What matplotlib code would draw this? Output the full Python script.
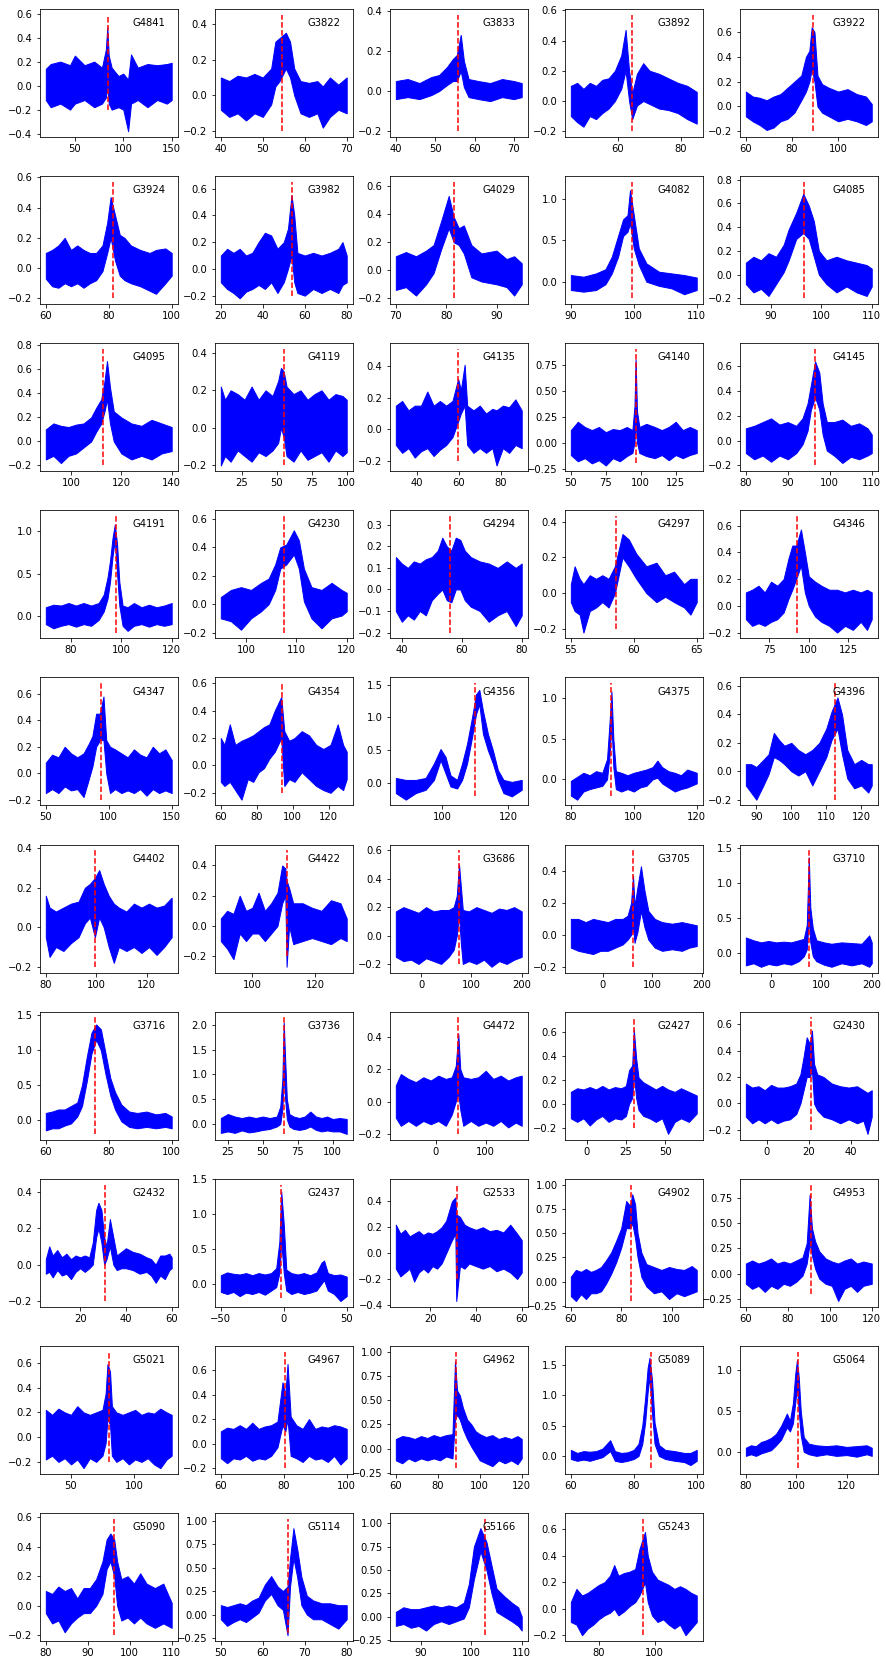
import numpy as np
import matplotlib
matplotlib.use("Agg")
import matplotlib.pyplot as plt

# spectra: (velocity, lower edge, upper edge) of the noisy trace
G4841 = [(20, -0.12, 0.14), (25, -0.18, 0.18), (35, -0.15, 0.20), (45, -0.20, 0.17), (50, -0.15, 0.25),
         (60, -0.12, 0.17), (70, -0.18, 0.20), (78, -0.15, 0.15), (82, -0.10, 0.30), (83.5, 0.0, 0.49),
         (85, -0.15, 0.25), (88, -0.20, 0.15), (95, -0.18, 0.08), (100, -0.20, 0.10), (105, -0.38, 0.05),
         (108, -0.15, 0.26), (115, -0.12, 0.15), (125, -0.18, 0.18), (135, -0.12, 0.17), (145, -0.15, 0.18),
         (150, -0.12, 0.19)]
G3822 = [(40, -0.08, 0.10), (42, -0.12, 0.08), (44, -0.10, 0.11), (46, -0.14, 0.10), (48, -0.10, 0.12),
         (50, -0.12, 0.10), (52, -0.05, 0.15), (53, 0.05, 0.30), (54, 0.08, 0.32), (55.5, 0.15, 0.35),
         (56.5, 0.10, 0.30), (57.5, 0.0, 0.15), (59, -0.10, 0.08), (61, -0.12, 0.07), (63, -0.10, 0.08),
         (64.3, -0.18, 0.05), (66, -0.12, 0.10), (68, -0.08, 0.06), (70, -0.10, 0.10)]
G3833 = [(40, -0.04, 0.05), (43, -0.03, 0.06), (46, -0.04, 0.04), (49, -0.02, 0.07), (51, 0.0, 0.08),
         (53, 0.03, 0.12), (54.5, 0.05, 0.16), (55.5, 0.05, 0.18), (56.5, 0.10, 0.28), (57.3, 0.02, 0.15),
         (58.5, -0.03, 0.06), (61, -0.04, 0.05), (64, -0.05, 0.04), (67, -0.03, 0.06), (70, -0.04, 0.05),
         (72, -0.03, 0.04)]
G3892 = [(45, -0.10, 0.10), (47, -0.14, 0.12), (49, -0.17, 0.08), (51, -0.10, 0.12), (53, -0.12, 0.10),
         (55, -0.08, 0.14), (57, -0.05, 0.15), (59, 0.0, 0.20), (61, 0.08, 0.30), (62.4, 0.20, 0.47),
         (63.5, 0.0, 0.20), (64.5, -0.12, 0.05), (66, -0.03, 0.18), (68, 0.0, 0.25), (70, -0.02, 0.20),
         (73, -0.05, 0.18), (76, -0.06, 0.15), (79, -0.08, 0.12), (82, -0.12, 0.10), (85, -0.15, 0.06)]
G3922 = [(60, -0.08, 0.12), (63, -0.12, 0.08), (66, -0.15, 0.07), (69, -0.19, 0.05), (72, -0.17, 0.08),
         (75, -0.12, 0.10), (78, -0.10, 0.15), (81, -0.05, 0.20), (84, 0.05, 0.25), (86, 0.12, 0.40),
         (87.5, 0.20, 0.45), (88.5, 0.30, 0.64), (89.7, 0.20, 0.60), (91, 0.0, 0.25), (93, -0.05, 0.18),
         (96, -0.08, 0.15), (100, -0.12, 0.12), (104, -0.10, 0.14), (108, -0.12, 0.10), (112, -0.15, 0.08),
         (114.5, -0.12, 0.02)]
G3924 = [(60, -0.07, 0.10), (62, -0.12, 0.12), (64, -0.13, 0.15), (66, -0.10, 0.20), (68, -0.12, 0.12),
         (70, -0.10, 0.15), (72, -0.13, 0.12), (74, -0.10, 0.10), (76, -0.08, 0.10), (78, -0.02, 0.15),
         (79.5, 0.10, 0.30), (80.6, 0.20, 0.47), (82, 0.05, 0.35), (83.5, -0.05, 0.22), (85, -0.08, 0.20),
         (87, -0.10, 0.15), (90, -0.12, 0.12), (93, -0.15, 0.10), (95, -0.17, 0.12), (98, -0.10, 0.13),
         (100, -0.05, 0.10)]
G3982 = [(20, -0.10, 0.10), (23, -0.15, 0.15), (26, -0.18, 0.12), (29, -0.22, 0.15), (32, -0.17, 0.10),
         (35, -0.15, 0.12), (38, -0.12, 0.20), (41, -0.15, 0.27), (44, -0.10, 0.25), (47, -0.18, 0.15),
         (50, -0.10, 0.20), (52, 0.0, 0.30), (53.7, 0.10, 0.55), (55, -0.10, 0.40), (56.5, -0.18, 0.12),
         (60, -0.20, 0.10), (64, -0.15, 0.12), (68, -0.18, 0.10), (72, -0.15, 0.12), (76, -0.18, 0.15),
         (78, -0.12, 0.20), (80, -0.10, 0.10)]
G4029 = [(70, -0.14, 0.10), (72, -0.12, 0.13), (74, -0.18, 0.10), (76, -0.10, 0.14), (77.5, -0.02, 0.18),
         (79, 0.15, 0.35), (80.5, 0.30, 0.53), (81.5, 0.20, 0.38), (82.5, 0.18, 0.30), (83.5, 0.12, 0.32),
         (85, -0.05, 0.18), (87, -0.08, 0.12), (90, -0.10, 0.14), (92, -0.12, 0.08), (93.5, -0.18, 0.10),
         (95, -0.10, 0.05)]
G4082 = [(90, -0.10, 0.08), (92, -0.12, 0.06), (94, -0.10, 0.10), (95.5, -0.03, 0.15), (96.5, 0.10, 0.30),
         (97.5, 0.30, 0.55), (98.3, 0.55, 0.75), (99, 0.60, 0.80), (99.4, 0.70, 1.10), (100, 0.40, 0.80),
         (100.8, 0.20, 0.40), (102, 0.0, 0.22), (104, -0.05, 0.12), (106, -0.08, 0.10), (108, -0.15, 0.08),
         (110, -0.10, 0.05)]
G4085 = [(85, -0.08, 0.10), (86.5, -0.15, 0.15), (88, -0.12, 0.12), (89.5, -0.18, 0.18), (91, -0.08, 0.15),
         (92.5, 0.02, 0.25), (93.5, 0.12, 0.38), (95, 0.30, 0.52), (96.4, 0.35, 0.68), (97.5, 0.30, 0.58),
         (98.5, 0.15, 0.45), (99.5, 0.0, 0.20), (101, -0.08, 0.12), (103, -0.15, 0.15), (105, -0.10, 0.12),
         (107, -0.15, 0.10), (109, -0.18, 0.08), (110, -0.10, 0.05)]
G4095 = [(90, -0.15, 0.10), (93, -0.12, 0.15), (96, -0.18, 0.13), (99, -0.12, 0.12), (102, -0.10, 0.14),
         (105, -0.05, 0.15), (108, 0.0, 0.20), (110, 0.08, 0.28), (112, 0.15, 0.35), (113.3, 0.25, 0.50),
         (114.3, 0.35, 0.67), (115.5, 0.15, 0.45), (117, 0.0, 0.25), (120, -0.10, 0.20), (124, -0.15, 0.15),
         (128, -0.12, 0.13), (132, -0.15, 0.18), (136, -0.10, 0.15), (140, -0.08, 0.12)]
G4119 = [(10, -0.20, 0.22), (13, -0.15, 0.15), (17, -0.18, 0.20), (22, -0.12, 0.18), (27, -0.15, 0.15),
         (32, -0.18, 0.22), (37, -0.13, 0.15), (42, -0.15, 0.20), (47, -0.12, 0.17), (51, -0.08, 0.25),
         (53, 0.0, 0.32), (55, -0.05, 0.30), (57, -0.15, 0.22), (62, -0.18, 0.18), (67, -0.12, 0.20),
         (72, -0.17, 0.15), (77, -0.15, 0.18), (82, -0.13, 0.20), (87, -0.18, 0.15), (92, -0.12, 0.18),
         (97, -0.15, 0.17), (100, -0.13, 0.15)]
G4135 = [(30, -0.10, 0.15), (33, -0.15, 0.18), (36, -0.12, 0.12), (39, -0.18, 0.15), (42, -0.14, 0.15),
         (45, -0.12, 0.24), (48, -0.17, 0.15), (51, -0.13, 0.18), (54, -0.10, 0.15), (57, -0.05, 0.18),
         (59.7, 0.05, 0.32), (61, 0.10, 0.25), (62.8, 0.15, 0.41), (64, -0.10, 0.15), (67, -0.15, 0.12),
         (70, -0.12, 0.15), (73, -0.15, 0.10), (76, -0.12, 0.13), (78, -0.23, 0.12), (81, -0.12, 0.15),
         (84, -0.15, 0.14), (87, -0.10, 0.19), (90, -0.12, 0.12)]
G4140 = [(50, -0.12, 0.12), (55, -0.18, 0.20), (60, -0.15, 0.15), (65, -0.20, 0.12), (70, -0.17, 0.15),
         (75, -0.22, 0.10), (80, -0.15, 0.13), (85, -0.18, 0.12), (90, -0.13, 0.15), (94, -0.10, 0.12),
         (95.5, 0.0, 0.35), (96.3, 0.20, 0.80), (97.3, 0.0, 0.30), (99, -0.10, 0.15), (104, -0.13, 0.18),
         (110, -0.15, 0.15), (115, -0.12, 0.12), (120, -0.17, 0.15), (125, -0.12, 0.20), (130, -0.15, 0.12),
         (135, -0.12, 0.15), (140, -0.10, 0.12)]
G4145 = [(80, -0.10, 0.10), (82, -0.15, 0.12), (84, -0.12, 0.15), (86, -0.17, 0.18), (88, -0.12, 0.13),
         (90, -0.15, 0.15), (92, -0.10, 0.12), (93.5, -0.03, 0.18), (94.7, 0.08, 0.30), (95.5, 0.25, 0.45),
         (96.5, 0.35, 0.64), (97.5, 0.25, 0.55), (98.3, 0.05, 0.30), (99.3, -0.08, 0.15), (101, -0.12, 0.15),
         (103, -0.18, 0.17), (105, -0.13, 0.12), (107, -0.15, 0.14), (109, -0.12, 0.10), (110, -0.10, 0.05)]
G4191 = [(70, -0.10, 0.10), (73, -0.15, 0.13), (76, -0.12, 0.12), (79, -0.10, 0.15), (82, -0.13, 0.12),
         (85, -0.10, 0.15), (88, -0.12, 0.12), (91, -0.05, 0.15), (93, 0.05, 0.25), (94.5, 0.20, 0.45),
         (95.5, 0.40, 0.65), (96.5, 0.70, 0.92), (97.4, 0.90, 1.08), (98.3, 0.50, 0.85), (99.2, 0.12, 0.40),
         (100.5, -0.12, 0.12), (102.5, -0.18, 0.10), (105, -0.12, 0.15), (108, -0.10, 0.10), (111, -0.13, 0.13),
         (114, -0.10, 0.10), (117, -0.12, 0.12), (120, -0.10, 0.15)]
G4230 = [(95, -0.10, 0.05), (97, -0.12, 0.10), (99, -0.18, 0.12), (101, -0.10, 0.10), (103, -0.05, 0.15),
         (104.5, 0.0, 0.18), (105.8, 0.10, 0.28), (106.8, 0.25, 0.40), (108, 0.28, 0.42), (109.5, 0.35, 0.52),
         (110.5, 0.25, 0.45), (111.5, 0.02, 0.25), (113, -0.10, 0.12), (115, -0.17, 0.10), (117, -0.10, 0.15),
         (119, -0.08, 0.10), (120, -0.05, 0.08)]
G4294 = [(38, -0.10, 0.15), (40, -0.15, 0.12), (42, -0.12, 0.10), (44, -0.14, 0.13), (46, -0.10, 0.12),
         (48, -0.12, 0.14), (50, -0.05, 0.15), (52, -0.02, 0.18), (53.5, 0.0, 0.24), (55, -0.05, 0.20),
         (56.5, -0.06, 0.18), (58, 0.0, 0.24), (59.5, 0.0, 0.23), (61, -0.05, 0.18), (63, -0.08, 0.15),
         (66, -0.10, 0.13), (69, -0.15, 0.12), (72, -0.12, 0.10), (75, -0.10, 0.13), (78, -0.17, 0.10),
         (80, -0.12, 0.12)]
G4297 = [(55, -0.05, 0.05), (55.3, -0.10, 0.15), (55.7, -0.12, 0.08), (56, -0.22, 0.05), (56.5, -0.10, 0.10),
         (57, -0.08, 0.08), (57.5, -0.05, 0.10), (58, -0.08, 0.08), (58.5, 0.0, 0.15), (59.1, 0.20, 0.33),
         (59.6, 0.15, 0.30), (60.2, 0.08, 0.22), (61, 0.0, 0.15), (61.8, -0.05, 0.17), (62.5, -0.02, 0.10),
         (63.2, -0.05, 0.12), (64, -0.08, 0.05), (64.5, -0.12, 0.08), (65, -0.05, 0.08)]
G4346 = [(60, -0.10, 0.10), (64, -0.15, 0.12), (68, -0.13, 0.15), (72, -0.15, 0.10), (76, -0.12, 0.18),
         (80, -0.10, 0.15), (84, -0.05, 0.20), (87, 0.05, 0.35), (89.5, 0.12, 0.45), (92, 0.20, 0.45),
         (95, 0.30, 0.57), (97.5, 0.10, 0.40), (100, 0.0, 0.22), (104, -0.08, 0.18), (108, -0.12, 0.15),
         (113, -0.15, 0.12), (118, -0.20, 0.12), (123, -0.15, 0.10), (128, -0.18, 0.12), (133, -0.12, 0.10),
         (137, -0.18, 0.12), (140, -0.10, 0.10)]
G4347 = [(50, -0.15, 0.08), (55, -0.12, 0.14), (60, -0.15, 0.12), (65, -0.10, 0.20), (70, -0.13, 0.15),
         (75, -0.12, 0.12), (80, -0.18, 0.15), (84, -0.05, 0.22), (87, 0.05, 0.28), (90, 0.20, 0.45),
         (93, 0.25, 0.45), (95.8, 0.25, 0.58), (98, 0.0, 0.25), (101, -0.15, 0.20), (105, -0.12, 0.18),
         (110, -0.15, 0.15), (115, -0.13, 0.12), (120, -0.15, 0.18), (125, -0.12, 0.14), (130, -0.17, 0.12),
         (135, -0.12, 0.20), (140, -0.15, 0.15), (145, -0.13, 0.18), (150, -0.15, 0.10)]
G4354 = [(60, -0.12, 0.20), (62, -0.15, 0.15), (65, -0.12, 0.30), (68, -0.18, 0.15), (71.5, -0.25, 0.18),
         (75, -0.10, 0.20), (78, -0.12, 0.22), (81, -0.05, 0.25), (84, -0.02, 0.28), (87, 0.05, 0.30),
         (90, 0.10, 0.40), (93.6, 0.20, 0.50), (95.3, -0.15, 0.25), (98, -0.10, 0.18), (101, -0.12, 0.20),
         (105, -0.05, 0.25), (109, -0.10, 0.22), (113, -0.15, 0.15), (117, -0.18, 0.12), (121, -0.20, 0.15),
         (125, -0.15, 0.30), (128, -0.18, 0.15), (130, -0.10, 0.10)]
G4356 = [(86, -0.15, 0.08), (89, -0.25, 0.05), (92, -0.15, 0.05), (95, -0.10, 0.08), (97.5, 0.05, 0.30),
         (99.5, 0.35, 0.52), (101, 0.15, 0.40), (102.5, -0.05, 0.12), (104.5, -0.08, 0.05), (106, 0.05, 0.30),
         (107.5, 0.30, 0.60), (109, 0.70, 1.00), (110.2, 1.05, 1.35), (111.2, 1.20, 1.42), (112.3, 0.75, 1.10),
         (113.8, 0.50, 0.75), (115.3, 0.30, 0.50), (116.8, 0.05, 0.20), (118.5, -0.15, 0.05), (121, -0.20, 0.02),
         (124, -0.10, 0.05)]
G4375 = [(80, -0.20, -0.02), (82, -0.25, 0.03), (84, -0.15, 0.08), (86, -0.12, 0.05), (88, -0.10, 0.10),
         (90, -0.08, 0.08), (91.5, 0.0, 0.25), (92.3, 0.30, 0.70), (92.9, 0.70, 1.08), (93.5, 0.15, 0.50),
         (94.3, -0.12, 0.10), (96, -0.15, 0.08), (98, -0.12, 0.05), (100, -0.15, 0.08), (102, -0.10, 0.10),
         (104, -0.08, 0.12), (106, 0.0, 0.15), (107.5, 0.02, 0.23), (109, -0.05, 0.15), (111, -0.10, 0.10),
         (113, -0.15, 0.08), (115, -0.12, 0.05), (117, -0.10, 0.12), (120, -0.05, 0.08)]
G4396 = [(87, -0.10, 0.05), (88.5, -0.15, 0.05), (90, -0.20, 0.03), (92, -0.10, 0.08), (93.5, -0.02, 0.12),
         (95, 0.10, 0.27), (96.5, 0.08, 0.22), (98, 0.05, 0.18), (100, 0.0, 0.20), (102, -0.03, 0.15),
         (104, 0.0, 0.12), (106, -0.10, 0.15), (108, 0.0, 0.20), (110, 0.10, 0.30), (111.5, 0.22, 0.42),
         (113.2, 0.30, 0.52), (114.5, 0.12, 0.40), (116, -0.05, 0.15), (118, -0.12, 0.05), (120, -0.10, 0.08),
         (122, -0.15, 0.05), (123, -0.10, 0.05)]
G4402 = [(80, -0.05, 0.16), (81.5, -0.15, 0.10), (84, -0.10, 0.08), (87, -0.12, 0.10), (90, -0.08, 0.12),
         (93, -0.05, 0.13), (95.5, 0.02, 0.20), (97.5, 0.05, 0.22), (99.5, -0.05, 0.25), (101.2, 0.05, 0.29),
         (103, 0.0, 0.22), (105, -0.10, 0.16), (107, -0.18, 0.12), (109, -0.10, 0.10), (112, -0.12, 0.08),
         (115, -0.10, 0.12), (118, -0.13, 0.10), (121, -0.10, 0.12), (124, -0.14, 0.10), (127, -0.10, 0.11),
         (130, -0.05, 0.15)]
G4422 = [(90, -0.10, 0.05), (92, -0.15, 0.10), (94, -0.22, 0.08), (96, -0.05, 0.20), (98, -0.10, 0.10),
         (100, -0.05, 0.12), (102, -0.05, 0.22), (104, -0.10, 0.10), (106, -0.05, 0.15), (108, 0.0, 0.22),
         (109.5, 0.15, 0.40), (110.5, 0.20, 0.38), (110.9, -0.27, 0.30), (111.7, 0.0, 0.25), (113, -0.12, 0.15),
         (116, -0.10, 0.15), (119, -0.08, 0.12), (122, -0.10, 0.10), (125, -0.12, 0.17), (128, -0.08, 0.15),
         (130, -0.10, 0.05)]
G3686 = [(-50, -0.15, 0.17), (-35, -0.18, 0.20), (-20, -0.17, 0.18), (-5, -0.20, 0.16), (10, -0.16, 0.20),
         (25, -0.18, 0.17), (40, -0.20, 0.18), (55, -0.15, 0.18), (65, -0.10, 0.20), (71, 0.0, 0.28),
         (75.5, 0.15, 0.50), (79, -0.05, 0.35), (83, -0.20, 0.18), (95, -0.18, 0.17), (110, -0.20, 0.20),
         (125, -0.17, 0.18), (140, -0.22, 0.16), (155, -0.18, 0.19), (170, -0.20, 0.18), (185, -0.17, 0.20),
         (200, -0.15, 0.17)]
G3705 = [(-65, -0.08, 0.10), (-50, -0.10, 0.10), (-35, -0.11, 0.08), (-20, -0.12, 0.10), (-5, -0.10, 0.09),
         (10, -0.10, 0.08), (25, -0.08, 0.10), (40, -0.06, 0.10), (50, -0.03, 0.12), (57, 0.0, 0.20),
         (61, 0.05, 0.37), (64, -0.05, 0.18), (70, 0.02, 0.30), (77, 0.15, 0.43), (84, 0.05, 0.28),
         (92, -0.03, 0.15), (105, -0.08, 0.10), (120, -0.10, 0.08), (140, -0.09, 0.07), (160, -0.10, 0.08),
         (175, -0.08, 0.07), (190, -0.07, 0.06)]
G3710 = [(-50, -0.18, 0.22), (-35, -0.15, 0.18), (-20, -0.20, 0.15), (-5, -0.16, 0.17), (10, -0.18, 0.15),
         (25, -0.15, 0.16), (40, -0.17, 0.15), (55, -0.12, 0.18), (65, -0.05, 0.20), (71, 0.05, 0.40),
         (75, 0.50, 1.37), (78, 0.15, 0.65), (83, -0.05, 0.35), (90, -0.12, 0.18), (105, -0.17, 0.15),
         (120, -0.20, 0.13), (140, -0.15, 0.15), (160, -0.18, 0.14), (180, -0.15, 0.13), (195, -0.20, 0.25),
         (200, -0.15, 0.15)]
G3716 = [(60, -0.15, 0.10), (62, -0.12, 0.12), (64, -0.12, 0.15), (66, -0.08, 0.15), (68, -0.05, 0.20),
         (70, 0.05, 0.25), (71.5, 0.20, 0.50), (73, 0.55, 0.90), (74.5, 0.95, 1.25), (76, 1.15, 1.37),
         (77.5, 1.00, 1.30), (79, 0.65, 0.95), (80.5, 0.35, 0.60), (82, 0.15, 0.40), (84, -0.02, 0.22),
         (86.5, -0.10, 0.12), (89, -0.12, 0.10), (92, -0.10, 0.12), (95, -0.12, 0.08), (98, -0.10, 0.10),
         (100, -0.12, 0.05)]
G3736 = [(20, -0.18, 0.12), (25, -0.15, 0.20), (30, -0.18, 0.15), (35, -0.13, 0.12), (40, -0.17, 0.15),
         (45, -0.15, 0.12), (50, -0.12, 0.15), (55, -0.10, 0.12), (60, -0.05, 0.15), (62.5, 0.0, 0.35),
         (64, 0.30, 0.90), (65, 1.00, 2.05), (66, 0.50, 1.30), (67.2, 0.10, 0.50), (69, -0.05, 0.20),
         (72, -0.10, 0.15), (76, -0.12, 0.12), (80, -0.10, 0.15), (84, -0.05, 0.25), (88, -0.12, 0.15),
         (92, -0.15, 0.12), (96, -0.13, 0.15), (100, -0.15, 0.10), (105, -0.15, 0.12), (110, -0.20, 0.10)]
G4472 = [(-80, -0.10, 0.10), (-70, -0.15, 0.17), (-55, -0.12, 0.14), (-40, -0.15, 0.12), (-25, -0.12, 0.15),
         (-10, -0.14, 0.13), (5, -0.12, 0.16), (20, -0.15, 0.14), (32, -0.08, 0.15), (40, 0.0, 0.22),
         (45, 0.05, 0.42), (49, -0.05, 0.20), (55, -0.15, 0.15), (70, -0.12, 0.14), (85, -0.15, 0.15),
         (100, -0.13, 0.19), (115, -0.15, 0.14), (130, -0.12, 0.16), (145, -0.16, 0.13), (160, -0.13, 0.15),
         (172, -0.15, 0.16)]
G2427 = [(-10, -0.12, 0.10), (-6, -0.15, 0.13), (-2, -0.12, 0.12), (2, -0.18, 0.14), (6, -0.13, 0.12),
         (10, -0.10, 0.15), (14, -0.15, 0.12), (18, -0.12, 0.14), (22, -0.13, 0.13), (25, -0.10, 0.15),
         (27, 0.0, 0.28), (29, 0.05, 0.32), (30, 0.25, 0.62), (31.5, 0.05, 0.38), (33, -0.05, 0.22),
         (36, -0.10, 0.18), (40, -0.12, 0.15), (44, -0.15, 0.12), (48, -0.12, 0.15), (51.8, -0.25, 0.12),
         (56, -0.15, 0.10), (60, -0.12, 0.13), (65, -0.15, 0.10), (70, -0.08, 0.07)]
G2430 = [(-10, -0.10, 0.15), (-7, -0.15, 0.12), (-4, -0.12, 0.13), (-1, -0.15, 0.10), (2, -0.12, 0.14),
         (5, -0.15, 0.12), (8, -0.13, 0.12), (11, -0.12, 0.13), (14, -0.08, 0.15), (16, 0.0, 0.22),
         (17.5, 0.10, 0.35), (19, 0.20, 0.50), (20.5, 0.20, 0.45), (21.5, 0.25, 0.55), (22.5, 0.0, 0.30),
         (24, -0.05, 0.22), (27, -0.10, 0.20), (31, -0.12, 0.15), (35, -0.15, 0.13), (39, -0.12, 0.12),
         (43, -0.15, 0.13), (46, -0.13, 0.10), (48, -0.23, 0.08), (50, -0.10, 0.10)]
G2432 = [(5, -0.05, 0.03), (6.5, -0.04, 0.10), (8, -0.07, 0.05), (10, -0.03, 0.08), (12, -0.06, 0.04),
         (14, -0.05, 0.06), (16, -0.08, 0.03), (18, -0.04, 0.05), (20, -0.02, 0.04), (22, -0.04, 0.05),
         (24, -0.02, 0.04), (25.5, 0.0, 0.12), (27, 0.15, 0.30), (28, 0.20, 0.34), (29.3, 0.12, 0.30),
         (30.5, 0.0, 0.15), (31.5, 0.03, 0.10), (33, 0.10, 0.25), (34.5, 0.0, 0.15), (36, -0.03, 0.05),
         (38, -0.02, 0.07), (40, -0.02, 0.09), (43, -0.03, 0.07), (46, -0.05, 0.06), (49, -0.04, 0.04),
         (51, -0.06, 0.03), (53, -0.10, 0.0), (55, -0.06, 0.05), (57, -0.08, 0.05), (59, -0.03, 0.06),
         (60, -0.02, 0.04)]
G2437 = [(-50, -0.12, 0.12), (-45, -0.15, 0.16), (-40, -0.12, 0.14), (-35, -0.18, 0.13), (-30, -0.13, 0.15),
         (-25, -0.15, 0.12), (-20, -0.12, 0.15), (-15, -0.16, 0.13), (-10, -0.10, 0.15), (-6, -0.05, 0.22),
         (-3.5, 0.15, 0.60), (-2, 0.60, 1.32), (0, 0.15, 0.85), (2, -0.10, 0.20), (6, -0.15, 0.15),
         (11, -0.12, 0.13), (16, -0.15, 0.15), (21, -0.13, 0.12), (26, -0.10, 0.16), (30, 0.0, 0.30),
         (32, 0.05, 0.33), (35, -0.10, 0.15), (40, -0.15, 0.12), (45, -0.25, 0.13), (50, -0.18, 0.10)]
G2533 = [(5, -0.12, 0.22), (7, -0.18, 0.15), (9, -0.15, 0.18), (11, -0.12, 0.13), (13, -0.22, 0.15),
         (15, -0.15, 0.17), (17, -0.12, 0.14), (19, -0.15, 0.16), (21, -0.10, 0.15), (23, -0.12, 0.17),
         (25, -0.08, 0.20), (27, 0.0, 0.25), (29.5, 0.10, 0.40), (31, 0.15, 0.43), (31.4, -0.37, 0.30),
         (33, -0.10, 0.28), (35, -0.12, 0.22), (37, -0.08, 0.20), (40, -0.10, 0.18), (43, -0.12, 0.20),
         (46, -0.10, 0.17), (49, -0.14, 0.18), (52, -0.12, 0.16), (55, -0.15, 0.22), (58, -0.20, 0.15),
         (60, -0.15, 0.10)]
G4902 = [(60, -0.15, 0.05), (62, -0.20, 0.12), (64, -0.13, 0.10), (66, -0.18, 0.13), (68, -0.12, 0.10),
         (70, -0.12, 0.12), (72, -0.10, 0.15), (74, -0.02, 0.22), (76, 0.08, 0.30), (78, 0.20, 0.42),
         (80, 0.35, 0.55), (82, 0.55, 0.83), (83.5, 0.55, 0.78), (84.4, 0.60, 0.90), (85.5, 0.45, 0.80),
         (86.5, 0.25, 0.50), (88, 0.05, 0.30), (90, -0.05, 0.18), (93, -0.12, 0.15), (96, -0.10, 0.12),
         (99, -0.18, 0.15), (102, -0.12, 0.13), (105, -0.15, 0.12), (108, -0.12, 0.16), (110, -0.10, 0.12)]
G4953 = [(60, -0.10, 0.10), (63, -0.15, 0.13), (66, -0.12, 0.10), (69, -0.18, 0.12), (72, -0.12, 0.15),
         (75, -0.15, 0.10), (78, -0.10, 0.12), (81, -0.12, 0.10), (84, -0.08, 0.13), (87, -0.02, 0.16),
         (89, 0.10, 0.30), (90.4, 0.30, 0.78), (91.5, 0.18, 0.45), (93, 0.05, 0.32), (95, -0.05, 0.22),
         (98, -0.10, 0.15), (101, -0.12, 0.12), (104, -0.27, 0.10), (107, -0.15, 0.13), (110, -0.12, 0.15),
         (113, -0.18, 0.10), (116, -0.12, 0.12), (120, -0.10, 0.10)]
G5021 = [(30, -0.18, 0.22), (35, -0.15, 0.18), (40, -0.20, 0.23), (45, -0.17, 0.20), (50, -0.22, 0.18),
         (55, -0.18, 0.25), (60, -0.25, 0.20), (65, -0.17, 0.18), (70, -0.20, 0.20), (75, -0.15, 0.22),
         (77.5, -0.05, 0.35), (79, 0.15, 0.59), (81, 0.10, 0.53), (82.5, -0.15, 0.25), (86, -0.20, 0.20),
         (91, -0.17, 0.18), (96, -0.22, 0.20), (101, -0.18, 0.22), (106, -0.20, 0.18), (111, -0.17, 0.20),
         (116, -0.22, 0.19), (121, -0.25, 0.23), (126, -0.18, 0.20), (130, -0.15, 0.18)]
G4967 = [(60, -0.12, 0.10), (62, -0.16, 0.13), (64, -0.12, 0.12), (66, -0.13, 0.15), (68, -0.10, 0.12),
         (70, -0.14, 0.17), (72, -0.12, 0.12), (74, -0.13, 0.14), (76, -0.10, 0.15), (78, -0.03, 0.18),
         (79.6, 0.15, 0.50), (80.5, 0.10, 0.40), (81.2, 0.20, 0.65), (82.2, -0.10, 0.22), (84, -0.12, 0.15),
         (86, -0.15, 0.12), (88, -0.10, 0.20), (90, -0.13, 0.12), (92, -0.12, 0.14), (94, -0.15, 0.13),
         (96, -0.10, 0.15), (98, -0.17, 0.14), (100, -0.12, 0.12)]
G4962 = [(60, -0.12, 0.10), (63, -0.15, 0.13), (66, -0.10, 0.12), (69, -0.13, 0.10), (72, -0.10, 0.13),
         (75, -0.12, 0.11), (78, -0.10, 0.14), (81, -0.12, 0.12), (84, -0.08, 0.14), (87, -0.10, 0.15),
         (88.2, 0.30, 0.90), (89.2, 0.35, 0.60), (90.5, 0.30, 0.55), (92, 0.20, 0.42), (94, 0.10, 0.30),
         (96, 0.02, 0.25), (98, -0.05, 0.18), (100, -0.12, 0.15), (103, -0.15, 0.12), (106, -0.18, 0.14),
         (109, -0.12, 0.10), (112, -0.15, 0.12), (115, -0.12, 0.10), (118, -0.16, 0.13), (120, -0.10, 0.10)]
G5089 = [(60, -0.05, 0.10), (62, -0.08, 0.05), (64, -0.06, 0.08), (66, -0.08, 0.07), (68, -0.05, 0.08),
         (70, -0.02, 0.12), (72.5, 0.08, 0.26), (74, -0.08, 0.08), (76, -0.10, 0.05), (78, -0.08, 0.06),
         (80, -0.05, 0.10), (81.5, 0.0, 0.20), (82.7, 0.20, 0.50), (83.6, 0.55, 0.95), (84.4, 1.05, 1.45),
         (85, 1.30, 1.62), (85.8, 0.70, 1.25), (86.6, 0.20, 0.55), (88, 0.0, 0.18), (90, -0.05, 0.10),
         (93, -0.08, 0.08), (96, -0.10, 0.05), (98, -0.15, 0.05), (100, -0.08, 0.10)]
G5064 = [(80, -0.05, 0.05), (82, -0.03, 0.08), (84, -0.05, 0.07), (86, -0.02, 0.12), (88, 0.0, 0.14),
         (90, 0.02, 0.17), (92, 0.08, 0.22), (94, 0.15, 0.32), (96.3, 0.30, 0.47), (97.5, 0.25, 0.38),
         (98.7, 0.35, 0.60), (99.6, 0.60, 0.95), (100.3, 0.80, 1.13), (101, 0.50, 0.92), (101.8, 0.20, 0.50),
         (103, 0.0, 0.18), (105, -0.03, 0.10), (108, -0.05, 0.08), (112, -0.03, 0.07), (116, -0.05, 0.08),
         (120, -0.04, 0.06), (124, -0.06, 0.07), (128, -0.03, 0.08), (130, -0.05, 0.05)]
G5090 = [(80, -0.05, 0.10), (81.5, -0.12, 0.08), (83, -0.10, 0.13), (84.5, -0.18, 0.10), (86, -0.12, 0.12),
         (87.5, -0.08, 0.05), (89, -0.05, 0.12), (90.5, -0.05, 0.12), (92, 0.0, 0.18), (93.5, 0.08, 0.30),
         (94.5, 0.25, 0.45), (95.4, 0.30, 0.49), (96.3, 0.20, 0.45), (97, 0.0, 0.30), (98, -0.10, 0.18),
         (99.5, -0.08, 0.20), (101, -0.12, 0.15), (102.5, -0.08, 0.22), (104, -0.12, 0.15), (106, -0.15, 0.12),
         (108, -0.12, 0.15), (110, -0.15, 0.02)]
G5114 = [(50, -0.05, 0.10), (51.5, -0.12, 0.08), (53, -0.08, 0.10), (54.5, -0.05, 0.12), (56, -0.08, 0.10),
         (57.5, -0.03, 0.15), (59, 0.02, 0.18), (60.5, 0.15, 0.32), (62, 0.22, 0.41), (63.5, 0.10, 0.30),
         (64.8, 0.05, 0.25), (65.9, -0.22, 0.30), (66.5, 0.30, 0.60), (67.3, 0.60, 0.92), (68.2, 0.40, 0.70),
         (69.2, 0.10, 0.40), (70.5, 0.0, 0.20), (72, -0.05, 0.15), (74, -0.05, 0.12), (76, -0.10, 0.12),
         (78, -0.15, 0.10), (80, -0.05, 0.10)]
G5166 = [(85, -0.10, 0.05), (86.5, -0.08, 0.10), (88, -0.12, 0.08), (89.5, -0.10, 0.08), (91, -0.15, 0.10),
         (92.5, -0.08, 0.12), (94, -0.05, 0.10), (95.5, -0.08, 0.12), (97, -0.05, 0.10), (98.5, -0.02, 0.15),
         (99.5, 0.10, 0.35), (100.5, 0.40, 0.75), (101.8, 0.70, 0.95), (103, 0.50, 0.80), (104, 0.25, 0.55),
         (105, 0.05, 0.30), (106.5, 0.0, 0.22), (108, -0.05, 0.15), (109.3, -0.10, 0.10), (110, -0.15, 0.0)]
G5243 = [(70, -0.10, 0.05), (72, -0.12, 0.15), (74, -0.20, 0.10), (76, -0.15, 0.12), (78, -0.12, 0.15),
         (80, -0.08, 0.18), (82, -0.05, 0.20), (84, -0.03, 0.25), (85.5, 0.0, 0.33), (87, -0.05, 0.25),
         (89, -0.02, 0.27), (91, 0.02, 0.28), (93, 0.05, 0.30), (94.5, 0.10, 0.45), (96.5, 0.20, 0.58),
         (97.5, 0.05, 0.40), (99, -0.05, 0.28), (101, -0.10, 0.22), (103, -0.08, 0.20), (105, -0.12, 0.18),
         (107, -0.15, 0.15), (109, -0.12, 0.17), (111, -0.20, 0.15), (113, -0.15, 0.12), (115, -0.10, 0.10)]

names = ["G4841", "G3822", "G3833", "G3892", "G3922",
         "G3924", "G3982", "G4029", "G4082", "G4085",
         "G4095", "G4119", "G4135", "G4140", "G4145",
         "G4191", "G4230", "G4294", "G4297", "G4346",
         "G4347", "G4354", "G4356", "G4375", "G4396",
         "G4402", "G4422", "G3686", "G3705", "G3710",
         "G3716", "G3736", "G4472", "G2427", "G2430",
         "G2432", "G2437", "G2533", "G4902", "G4953",
         "G5021", "G4967", "G4962", "G5089", "G5064",
         "G5090", "G5114", "G5166", "G5243"]
spectra = [G4841, G3822, G3833, G3892, G3922,
           G3924, G3982, G4029, G4082, G4085,
           G4095, G4119, G4135, G4140, G4145,
           G4191, G4230, G4294, G4297, G4346,
           G4347, G4354, G4356, G4375, G4396,
           G4402, G4422, G3686, G3705, G3710,
           G3716, G3736, G4472, G2427, G2430,
           G2432, G2437, G2533, G4902, G4953,
           G5021, G4967, G4962, G5089, G5064,
           G5090, G5114, G5166, G5243]
# systemic velocity marked by the red dashed line
centers = [84.7, 54.7, 55.7, 64.4, 89.1,
           81.3, 54.0, 81.5, 99.7, 96.6,
           112.9, 55.4, 59.7, 96.3, 96.5,
           97.7, 107.5, 56.1, 58.6, 92.5,
           93.5, 94.0, 110.0, 92.9, 112.5,
           99.5, 110.9, 75.6, 60.8, 75.0,
           75.7, 65.2, 45.3, 30.4, 21.1,
           30.8, -2.3, 31.6, 83.9, 91.0,
           79.9, 80.5, 88.5, 85.4, 100.7,
           96.25, 65.9, 102.8, 95.8]

fig, axes = plt.subplots(10, 5, figsize=(886 / 72, 1665 / 72), dpi=72)
plt.subplots_adjust(left=0.0446, right=0.991, top=0.9946, bottom=0.0144,
                    wspace=0.264, hspace=0.305)

for ax, name, spec, vc in zip(axes.flat, names, spectra, centers):
    x, lo, hi = np.array(spec).T
    ax.fill_between(x, lo, hi, color="blue", edgecolor="blue", lw=1)
    ax.plot([vc, vc], [-0.2, hi.max() + 0.1], "r--", lw=1.5)
    ax.text(0.67, 0.89, name, transform=ax.transAxes, va="center", fontsize=10)

axes.flat[-1].axis("off")

fig.savefig("out.png", dpi=72)
